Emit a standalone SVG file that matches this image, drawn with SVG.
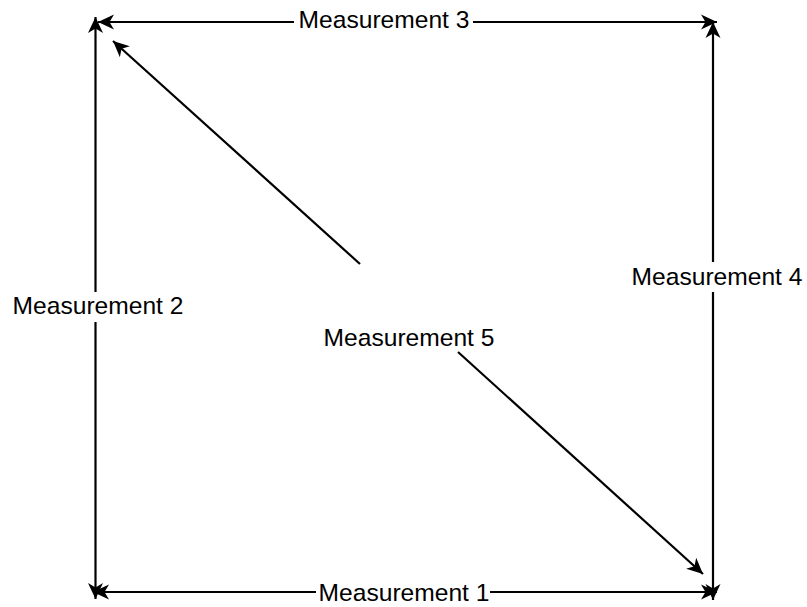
<svg xmlns="http://www.w3.org/2000/svg" width="807" height="607" viewBox="0 0 807 607">
<style>
.ln{fill:none;stroke:#000;stroke-width:2.2}
.lbl{font-family:"Liberation Sans",Arial,Helvetica,sans-serif;font-size:24.6px;fill:#000;text-anchor:middle}
</style>
<defs>
<marker id="arr" markerUnits="userSpaceOnUse" markerWidth="17" markerHeight="16" viewBox="0 0 17 16" refX="16" refY="8" orient="auto-start-reverse">
<path d="M0,0.5 L16,8 L0,15.5 L4.5,8 Z" fill="#000"/>
</marker>
</defs>
<rect width="807" height="607" fill="#fff"/>
<g id="connectors">
<g id="m1">
<path class="ln" d="M93,592 L316,592" marker-start="url(#arr)"/>
<path class="ln" d="M490,592 L717,592" marker-end="url(#arr)"/>
</g>
<g id="m2">
<path class="ln" d="M95.5,17 L95.5,292" marker-start="url(#arr)"/>
<path class="ln" d="M95.5,322 L95.5,599" marker-end="url(#arr)"/>
</g>
<g id="m3">
<path class="ln" d="M98,22 L294,22" marker-start="url(#arr)"/>
<path class="ln" d="M473,22 L717,22" marker-end="url(#arr)"/>
</g>
<g id="m4">
<path class="ln" d="M713,22 L713,262" marker-start="url(#arr)"/>
<path class="ln" d="M713,292 L713,600" marker-end="url(#arr)"/>
</g>
<g id="m5">
<path class="ln" d="M113,41 L360,264" marker-start="url(#arr)"/>
<path class="ln" d="M458,352 L703,574" marker-end="url(#arr)"/>
</g>
</g>
<g id="labels">
<text class="lbl" x="404" y="601">Measurement 1</text>
<text class="lbl" x="98" y="314">Measurement 2</text>
<text class="lbl" x="384" y="28">Measurement 3</text>
<text class="lbl" x="717" y="285">Measurement 4</text>
<text class="lbl" x="409" y="346">Measurement 5</text>
</g>
</svg>
